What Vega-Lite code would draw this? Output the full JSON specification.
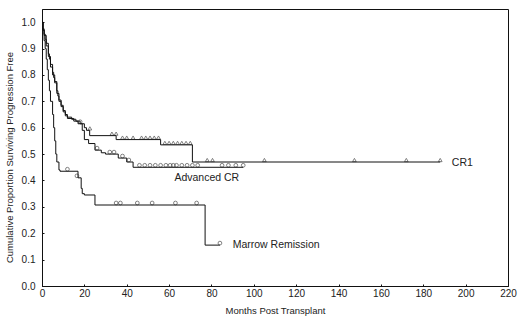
{
  "$schema": "https://vega.github.io/schema/vega-lite/v6.json",
  "width": 466,
  "height": 277,
  "autosize": {"type": "none"},
  "padding": {"left": 42, "top": 9, "right": 12, "bottom": 40},
  "background": "white",
  "config": {
    "view": {"stroke": "#111", "strokeWidth": 1},
    "font": "Liberation Sans",
    "axis": {"grid": false, "domainColor": "#111", "tickColor": "#111", "labelColor": "#222", "titleColor": "#222", "labelFont": "Liberation Sans", "titleFont": "Liberation Sans", "labelFontSize": 10, "titleFontSize": 9.5, "titleFontWeight": "normal", "tickSize": -2, "labelOverlap": false}
  },
  "datasets": {
    "curves": [
      {"group": "CR1", "month": 0, "surv": 1.0},
      {"group": "CR1", "month": 0.5, "surv": 0.975},
      {"group": "CR1", "month": 1, "surv": 0.955},
      {"group": "CR1", "month": 1.5, "surv": 0.935},
      {"group": "CR1", "month": 2, "surv": 0.91},
      {"group": "CR1", "month": 3, "surv": 0.88},
      {"group": "CR1", "month": 3.5, "surv": 0.86},
      {"group": "CR1", "month": 4, "surv": 0.84},
      {"group": "CR1", "month": 5, "surv": 0.81},
      {"group": "CR1", "month": 5.5, "surv": 0.79},
      {"group": "CR1", "month": 6, "surv": 0.775},
      {"group": "CR1", "month": 7, "surv": 0.74},
      {"group": "CR1", "month": 7.5, "surv": 0.72},
      {"group": "CR1", "month": 8, "surv": 0.705},
      {"group": "CR1", "month": 9, "surv": 0.685},
      {"group": "CR1", "month": 10, "surv": 0.665},
      {"group": "CR1", "month": 11, "surv": 0.65},
      {"group": "CR1", "month": 12, "surv": 0.64},
      {"group": "CR1", "month": 14, "surv": 0.632},
      {"group": "CR1", "month": 16, "surv": 0.625},
      {"group": "CR1", "month": 18, "surv": 0.615},
      {"group": "CR1", "month": 20, "surv": 0.6},
      {"group": "CR1", "month": 21, "surv": 0.59},
      {"group": "CR1", "month": 22.5, "surv": 0.57},
      {"group": "CR1", "month": 35, "surv": 0.555},
      {"group": "CR1", "month": 56, "surv": 0.535},
      {"group": "CR1", "month": 71, "surv": 0.47},
      {"group": "CR1", "month": 188, "surv": 0.47},
      {"group": "Advanced CR", "month": 0, "surv": 1.0},
      {"group": "Advanced CR", "month": 0.5, "surv": 0.97},
      {"group": "Advanced CR", "month": 1, "surv": 0.95},
      {"group": "Advanced CR", "month": 2, "surv": 0.92},
      {"group": "Advanced CR", "month": 3, "surv": 0.87},
      {"group": "Advanced CR", "month": 4, "surv": 0.83},
      {"group": "Advanced CR", "month": 5, "surv": 0.8},
      {"group": "Advanced CR", "month": 6, "surv": 0.77},
      {"group": "Advanced CR", "month": 7, "surv": 0.73},
      {"group": "Advanced CR", "month": 8, "surv": 0.7},
      {"group": "Advanced CR", "month": 9, "surv": 0.68},
      {"group": "Advanced CR", "month": 10, "surv": 0.66},
      {"group": "Advanced CR", "month": 11, "surv": 0.645},
      {"group": "Advanced CR", "month": 12, "surv": 0.635},
      {"group": "Advanced CR", "month": 15, "surv": 0.625},
      {"group": "Advanced CR", "month": 17, "surv": 0.615},
      {"group": "Advanced CR", "month": 19, "surv": 0.59},
      {"group": "Advanced CR", "month": 20, "surv": 0.555},
      {"group": "Advanced CR", "month": 22, "surv": 0.54},
      {"group": "Advanced CR", "month": 25, "surv": 0.515},
      {"group": "Advanced CR", "month": 28, "surv": 0.505},
      {"group": "Advanced CR", "month": 30, "surv": 0.5},
      {"group": "Advanced CR", "month": 36, "surv": 0.485},
      {"group": "Advanced CR", "month": 40, "surv": 0.47},
      {"group": "Advanced CR", "month": 43, "surv": 0.45},
      {"group": "Advanced CR", "month": 95, "surv": 0.45},
      {"group": "Marrow Remission", "month": 0, "surv": 1.0},
      {"group": "Marrow Remission", "month": 0.5, "surv": 0.97},
      {"group": "Marrow Remission", "month": 1, "surv": 0.93},
      {"group": "Marrow Remission", "month": 1.5, "surv": 0.9},
      {"group": "Marrow Remission", "month": 2, "surv": 0.86},
      {"group": "Marrow Remission", "month": 2.5, "surv": 0.82},
      {"group": "Marrow Remission", "month": 3, "surv": 0.78},
      {"group": "Marrow Remission", "month": 3.5, "surv": 0.74},
      {"group": "Marrow Remission", "month": 4, "surv": 0.7},
      {"group": "Marrow Remission", "month": 5, "surv": 0.65},
      {"group": "Marrow Remission", "month": 5.5, "surv": 0.6},
      {"group": "Marrow Remission", "month": 6, "surv": 0.55},
      {"group": "Marrow Remission", "month": 6.5, "surv": 0.5},
      {"group": "Marrow Remission", "month": 7, "surv": 0.47},
      {"group": "Marrow Remission", "month": 8, "surv": 0.44},
      {"group": "Marrow Remission", "month": 8.5, "surv": 0.435},
      {"group": "Marrow Remission", "month": 17, "surv": 0.41},
      {"group": "Marrow Remission", "month": 18.5, "surv": 0.37},
      {"group": "Marrow Remission", "month": 19, "surv": 0.35},
      {"group": "Marrow Remission", "month": 20, "surv": 0.345},
      {"group": "Marrow Remission", "month": 25, "surv": 0.307},
      {"group": "Marrow Remission", "month": 77, "surv": 0.155},
      {"group": "Marrow Remission", "month": 84, "surv": 0.155}
    ],
    "censors": [
      {"group": "CR1", "month": 22.6, "surv": 0.59},
      {"group": "CR1", "month": 33, "surv": 0.57},
      {"group": "CR1", "month": 35, "surv": 0.57},
      {"group": "CR1", "month": 38, "surv": 0.555},
      {"group": "CR1", "month": 40, "surv": 0.555},
      {"group": "CR1", "month": 43, "surv": 0.555},
      {"group": "CR1", "month": 47, "surv": 0.555},
      {"group": "CR1", "month": 49, "surv": 0.555},
      {"group": "CR1", "month": 51, "surv": 0.555},
      {"group": "CR1", "month": 53, "surv": 0.555},
      {"group": "CR1", "month": 55, "surv": 0.555},
      {"group": "CR1", "month": 58, "surv": 0.535},
      {"group": "CR1", "month": 60, "surv": 0.535},
      {"group": "CR1", "month": 62, "surv": 0.535},
      {"group": "CR1", "month": 64, "surv": 0.535},
      {"group": "CR1", "month": 66, "surv": 0.535},
      {"group": "CR1", "month": 68, "surv": 0.535},
      {"group": "CR1", "month": 70, "surv": 0.535},
      {"group": "CR1", "month": 78, "surv": 0.47},
      {"group": "CR1", "month": 80.5, "surv": 0.47},
      {"group": "CR1", "month": 105, "surv": 0.47},
      {"group": "CR1", "month": 147.5, "surv": 0.47},
      {"group": "CR1", "month": 172, "surv": 0.47},
      {"group": "CR1", "month": 188, "surv": 0.47},
      {"group": "Advanced CR", "month": 18, "surv": 0.615},
      {"group": "Advanced CR", "month": 26, "surv": 0.515},
      {"group": "Advanced CR", "month": 32, "surv": 0.5},
      {"group": "Advanced CR", "month": 34, "surv": 0.5},
      {"group": "Advanced CR", "month": 38, "surv": 0.485},
      {"group": "Advanced CR", "month": 41, "surv": 0.47},
      {"group": "Advanced CR", "month": 46, "surv": 0.45},
      {"group": "Advanced CR", "month": 48.5, "surv": 0.45},
      {"group": "Advanced CR", "month": 51, "surv": 0.45},
      {"group": "Advanced CR", "month": 53.5, "surv": 0.45},
      {"group": "Advanced CR", "month": 56, "surv": 0.45},
      {"group": "Advanced CR", "month": 58.5, "surv": 0.45},
      {"group": "Advanced CR", "month": 60.5, "surv": 0.45},
      {"group": "Advanced CR", "month": 62, "surv": 0.45},
      {"group": "Advanced CR", "month": 63.5, "surv": 0.45},
      {"group": "Advanced CR", "month": 66, "surv": 0.45},
      {"group": "Advanced CR", "month": 68.5, "surv": 0.45},
      {"group": "Advanced CR", "month": 71, "surv": 0.45},
      {"group": "Advanced CR", "month": 73.5, "surv": 0.45},
      {"group": "Advanced CR", "month": 85, "surv": 0.45},
      {"group": "Advanced CR", "month": 88, "surv": 0.45},
      {"group": "Advanced CR", "month": 91.5, "surv": 0.45},
      {"group": "Advanced CR", "month": 95, "surv": 0.45},
      {"group": "Marrow Remission", "month": 12, "surv": 0.435},
      {"group": "Marrow Remission", "month": 16.5, "surv": 0.41},
      {"group": "Marrow Remission", "month": 35, "surv": 0.307},
      {"group": "Marrow Remission", "month": 37, "surv": 0.307},
      {"group": "Marrow Remission", "month": 45, "surv": 0.307},
      {"group": "Marrow Remission", "month": 52, "surv": 0.307},
      {"group": "Marrow Remission", "month": 63, "surv": 0.307},
      {"group": "Marrow Remission", "month": 73, "surv": 0.307},
      {"group": "Marrow Remission", "month": 84, "surv": 0.155}
    ],
    "labels": [
      {"label": "CR1", "month": 193.5, "surv": 0.466},
      {"label": "Advanced CR", "month": 62.5, "surv": 0.41},
      {"label": "Marrow Remission", "month": 90, "surv": 0.155}
    ]
  },
  "encoding": {
    "x": {"field": "month", "type": "quantitative", "scale": {"domain": [0, 220], "nice": false},
      "axis": {"values": [0, 20, 40, 60, 80, 100, 120, 140, 160, 180, 200, 220], "title": "Months Post Transplant", "labelPadding": 4, "titlePadding": 7, "labelFlush": false, "labelOverlap": false, "tickSize": -2}},
    "y": {"field": "surv", "type": "quantitative", "scale": {"domain": [0, 1.05], "nice": false},
      "axis": {"values": [0, 0.1, 0.2, 0.3, 0.4, 0.5, 0.6, 0.7, 0.8, 0.9, 1.0], "format": ".1f", "labelOverlap": false, "tickSize": -2, "title": "Cumulative Proportion Surviving Progression Free", "labelPadding": 9, "titleX": -33, "titleY": 148, "titleAlign": "center", "titleBaseline": "middle", "titleAngle": -90}}
  },
  "layer": [
    {
      "data": {"name": "curves"},
      "mark": {"type": "line", "interpolate": "step-after", "color": "#111", "strokeWidth": 1},
      "encoding": {
        "detail": {"field": "group"}
      }
    },
    {
      "data": {"name": "censors"},
      "mark": {"type": "point", "filled": false, "size": 14, "strokeWidth": 0.8, "color": "#222"},
      "encoding": {
        "shape": {"field": "group", "type": "nominal", "legend": null,
          "scale": {"domain": ["CR1", "Advanced CR", "Marrow Remission"], "range": ["triangle-up", "circle", "circle"]}},
        "yOffset": {"value": -2}
      }
    },
    {
      "data": {"name": "labels"},
      "mark": {"type": "text", "align": "left", "baseline": "middle", "fontSize": 10.5, "color": "#222", "font": "Liberation Sans"},
      "encoding": {
        "text": {"field": "label"}
      }
    }
  ]
}
